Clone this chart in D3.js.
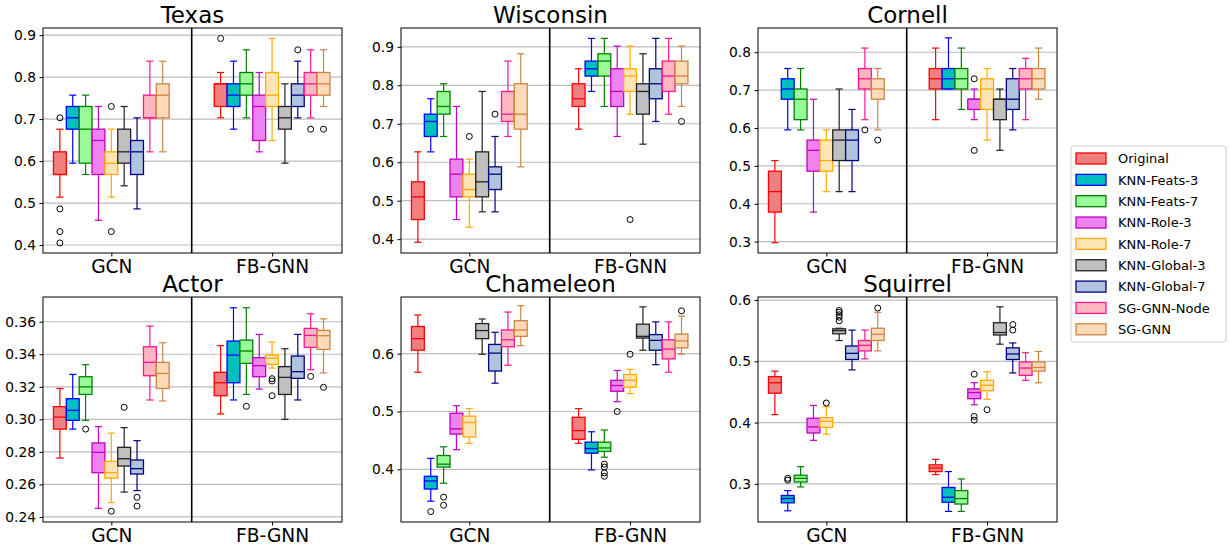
<!DOCTYPE html>
<html>
<head>
<meta charset="utf-8">
<script src="https://cdnjs.cloudflare.com/ajax/libs/d3/7.8.5/d3.min.js"></script>
<style>
  body { margin: 0; background: #fff; }
  text { font-family: "DejaVu Sans", sans-serif; fill: #000; }
</style>
</head>
<body>
<div id="chart-area"></div>
<script>
// categories
const datasets = ["Texas", "Wisconsin", "Cornell", "Actor", "Chameleon", "Squirrel"];
const models = ["GCN", "FB-GNN"];
const variants = ["Original", "KNN-Feats-3", "KNN-Feats-7", "KNN-Role-3", "KNN-Role-7",
  "KNN-Global-3", "KNN-Global-7", "SG-GNN-Node", "SG-GNN"];

// tick labels per panel
const texasTicks = [0.4, 0.5, 0.6, 0.7, 0.8, 0.9];
const wiscTicks = [0.4, 0.5, 0.6, 0.7, 0.8, 0.9];
const cornellTicks = [0.3, 0.4, 0.5, 0.6, 0.7, 0.8];
const actorTicks = [0.24, 0.26, 0.28, 0.30, 0.32, 0.34, 0.36];
const chamTicks = [0.4, 0.5, 0.6];
const squTicks = [0.3, 0.4, 0.5, 0.6];

// box stats: [whisker low, q1, median, q3, whisker high, outliers]
const texasGCN = [
  [0.514, 0.568, 0.568, 0.622, 0.676, [0.703, 0.486, 0.432, 0.405]],
  [0.595, 0.676, 0.703, 0.730, 0.757],
  [0.568, 0.595, 0.676, 0.730, 0.757],
  [0.459, 0.568, 0.649, 0.676, 0.730],
  [0.514, 0.568, 0.595, 0.622, 0.676, [0.730, 0.432]],
  [0.541, 0.595, 0.622, 0.676, 0.730],
  [0.486, 0.568, 0.622, 0.649, 0.703],
  [0.622, 0.703, 0.703, 0.757, 0.838],
  [0.622, 0.703, 0.757, 0.784, 0.838]
];
const texasFB = [
  [0.703, 0.730, 0.784, 0.784, 0.811, [0.892]],
  [0.676, 0.730, 0.757, 0.784, 0.838],
  [0.703, 0.757, 0.784, 0.811, 0.865],
  [0.622, 0.649, 0.730, 0.757, 0.811],
  [0.649, 0.730, 0.757, 0.811, 0.892],
  [0.595, 0.676, 0.703, 0.730, 0.784],
  [0.703, 0.730, 0.757, 0.784, 0.838, [0.865]],
  [0.703, 0.757, 0.784, 0.811, 0.865, [0.676]],
  [0.730, 0.757, 0.784, 0.811, 0.865, [0.676]]
];
const wiscGCN = [
  [0.392, 0.451, 0.510, 0.549, 0.627],
  [0.627, 0.667, 0.706, 0.725, 0.765],
  [0.667, 0.725, 0.745, 0.784, 0.804],
  [0.451, 0.510, 0.569, 0.608, 0.745],
  [0.431, 0.510, 0.529, 0.569, 0.608, [0.667]],
  [0.471, 0.510, 0.549, 0.627, 0.784],
  [0.471, 0.529, 0.569, 0.588, 0.667, [0.725]],
  [0.667, 0.706, 0.725, 0.784, 0.863],
  [0.588, 0.686, 0.725, 0.804, 0.882]
];
const wiscFB = [
  [0.686, 0.745, 0.765, 0.804, 0.843],
  [0.784, 0.824, 0.843, 0.863, 0.922],
  [0.745, 0.824, 0.863, 0.882, 0.922],
  [0.667, 0.745, 0.784, 0.843, 0.902],
  [0.725, 0.784, 0.824, 0.843, 0.902, [0.451]],
  [0.647, 0.725, 0.784, 0.804, 0.882],
  [0.706, 0.765, 0.804, 0.843, 0.922],
  [0.725, 0.784, 0.824, 0.863, 0.922],
  [0.745, 0.804, 0.824, 0.863, 0.902, [0.706]]
];
const cornellGCN = [
  [0.297, 0.378, 0.432, 0.486, 0.514],
  [0.595, 0.676, 0.703, 0.730, 0.757],
  [0.595, 0.622, 0.676, 0.703, 0.757],
  [0.378, 0.486, 0.541, 0.568, 0.676],
  [0.432, 0.486, 0.514, 0.568, 0.595],
  [0.432, 0.514, 0.568, 0.595, 0.703],
  [0.432, 0.514, 0.568, 0.595, 0.649],
  [0.622, 0.703, 0.730, 0.757, 0.811, [0.595]],
  [0.595, 0.676, 0.703, 0.730, 0.757, [0.568]]
];
const cornellFB = [
  [0.622, 0.703, 0.730, 0.757, 0.811],
  [0.703, 0.703, 0.730, 0.757, 0.838],
  [0.649, 0.703, 0.730, 0.757, 0.811],
  [0.622, 0.649, 0.676, 0.676, 0.703, [0.730, 0.541]],
  [0.568, 0.649, 0.703, 0.730, 0.757],
  [0.541, 0.622, 0.676, 0.676, 0.703],
  [0.595, 0.649, 0.676, 0.730, 0.757],
  [0.622, 0.703, 0.730, 0.757, 0.784],
  [0.676, 0.703, 0.730, 0.757, 0.811]
];
const actorGCN = [
  [0.2762, 0.2940, 0.3014, 0.3078, 0.3190],
  [0.2940, 0.2994, 0.3055, 0.3127, 0.3276],
  [0.2994, 0.3153, 0.3200, 0.3262, 0.3336, [0.2940]],
  [0.2453, 0.2672, 0.2797, 0.2855, 0.2955],
  [0.2488, 0.2638, 0.2672, 0.2742, 0.2915, [0.2435]],
  [0.2553, 0.2713, 0.2758, 0.2828, 0.2949, [0.3074]],
  [0.2562, 0.2664, 0.2697, 0.2750, 0.2869, [0.2521, 0.2467]],
  [0.3119, 0.3268, 0.3350, 0.3446, 0.3573],
  [0.3113, 0.3190, 0.3282, 0.3350, 0.3471]
];
const actorFB = [
  [0.3033, 0.3145, 0.3225, 0.3289, 0.3453],
  [0.3119, 0.3225, 0.3395, 0.3481, 0.3686],
  [0.3153, 0.3344, 0.3420, 0.3487, 0.3686, [0.3080]],
  [0.3186, 0.3262, 0.3330, 0.3379, 0.3522],
  [0.3315, 0.3338, 0.3375, 0.3395, 0.3475, [0.3250, 0.3236, 0.3145]],
  [0.3000, 0.3153, 0.3258, 0.3324, 0.3434],
  [0.3119, 0.3252, 0.3293, 0.3389, 0.3522],
  [0.3305, 0.3442, 0.3516, 0.3559, 0.3649, [0.3264]],
  [0.3285, 0.3430, 0.3514, 0.3547, 0.3618, [0.3197]]
];
const chamGCN = [
  [0.568, 0.606, 0.626, 0.647, 0.667],
  [0.345, 0.366, 0.380, 0.388, 0.419, [0.327]],
  [0.376, 0.404, 0.409, 0.424, 0.439, [0.352, 0.338]],
  [0.434, 0.461, 0.470, 0.497, 0.510],
  [0.445, 0.456, 0.481, 0.492, 0.505],
  [0.599, 0.626, 0.640, 0.652, 0.660],
  [0.549, 0.570, 0.601, 0.616, 0.637],
  [0.580, 0.612, 0.624, 0.641, 0.672],
  [0.614, 0.630, 0.641, 0.657, 0.683]
];
const chamFB = [
  [0.445, 0.452, 0.467, 0.490, 0.505],
  [0.399, 0.428, 0.436, 0.447, 0.465],
  [0.421, 0.431, 0.437, 0.447, 0.468, [0.409, 0.404, 0.394, 0.388]],
  [0.517, 0.535, 0.545, 0.554, 0.571, [0.500]],
  [0.531, 0.542, 0.554, 0.564, 0.573, [0.599]],
  [0.606, 0.627, 0.630, 0.651, 0.681],
  [0.581, 0.606, 0.623, 0.633, 0.655],
  [0.568, 0.591, 0.608, 0.624, 0.655],
  [0.599, 0.610, 0.622, 0.634, 0.665, [0.674]]
];
const squGCN = [
  [0.413, 0.448, 0.465, 0.475, 0.484],
  [0.256, 0.269, 0.276, 0.281, 0.289, [0.309, 0.306]],
  [0.295, 0.303, 0.309, 0.314, 0.328],
  [0.371, 0.383, 0.393, 0.407, 0.428],
  [0.381, 0.392, 0.402, 0.408, 0.426, [0.432]],
  [0.534, 0.545, 0.550, 0.553, 0.554, [0.583, 0.580, 0.576, 0.572, 0.566]],
  [0.486, 0.503, 0.513, 0.525, 0.551],
  [0.504, 0.517, 0.526, 0.534, 0.551],
  [0.517, 0.534, 0.544, 0.554, 0.580, [0.587]]
];
const squFB = [
  [0.315, 0.320, 0.326, 0.331, 0.340],
  [0.255, 0.270, 0.278, 0.294, 0.320],
  [0.255, 0.267, 0.276, 0.289, 0.308],
  [0.429, 0.439, 0.449, 0.455, 0.465, [0.479, 0.410, 0.404]],
  [0.438, 0.452, 0.461, 0.469, 0.483, [0.421]],
  [0.528, 0.543, 0.547, 0.563, 0.589],
  [0.481, 0.503, 0.512, 0.522, 0.530, [0.560, 0.551]],
  [0.469, 0.477, 0.489, 0.499, 0.514],
  [0.465, 0.484, 0.490, 0.499, 0.516]
];

const fills = ["#f08080", "#00bfbf", "#98fb98", "#ee82ee", "#ffe4b5", "#c0c0c0", "#b0c4de", "#ffb6c1", "#ffdab9"];
const edges = ["#ff0000", "#0000ff", "#008000", "#c000c0", "#ffaa00", "#222222", "#000080", "#ff1493", "#cd853f"];

const panels = [
  {stats: [texasGCN, texasFB], ticks: texasTicks, domain: [0.381, 0.917], fmt: ".1f"},
  {stats: [wiscGCN, wiscFB], ticks: wiscTicks, domain: [0.364, 0.949], fmt: ".1f"},
  {stats: [cornellGCN, cornellFB], ticks: cornellTicks, domain: [0.270, 0.864], fmt: ".1f"},
  {stats: [actorGCN, actorFB], ticks: actorTicks, domain: [0.2369, 0.3752], fmt: ".2f"},
  {stats: [chamGCN, chamFB], ticks: chamTicks, domain: [0.309, 0.698], fmt: ".1f"},
  {stats: [squGCN, squFB], ticks: squTicks, domain: [0.2377, 0.605], fmt: ".1f"}
];

const colX = [43, 401, 758];
const rowY = [28, 297];
const pw = 299, ph = 225;
const bw = 0.08; // box step in group units

let svg = d3.select("#chart-area")
  .append("svg")
  .attr("width", 1230)
  .attr("height", 546);

panels.forEach((p, i) => {
  let g = svg.append("g")
    .attr("transform", "translate(" + colX[i % 3] + "," + rowY[Math.floor(i / 3)] + ")");

  let x = d3.scaleLinear().domain([-0.425, 1.435]).range([0, pw]);
  let y = d3.scaleLinear().domain(p.domain).range([ph, 0]);
  let w = x(bw) - x(0);

  // grid
  g.selectAll(".grid")
    .data(p.ticks)
    .enter()
    .append("line")
    .attr("x1", 0).attr("x2", pw)
    .attr("y1", d => y(d)).attr("y2", d => y(d))
    .attr("stroke", "#bdbdbd")
    .attr("stroke-width", 1.2);

  // divider between the two models
  g.append("line")
    .attr("x1", x(0.5)).attr("x2", x(0.5))
    .attr("y1", 0).attr("y2", ph)
    .attr("stroke", "#000")
    .attr("stroke-width", 1.6);

  // boxes, one variant at a time
  variants.forEach((v, vi) => {
    p.stats.forEach((grp, gi) => {
      let s = grp[vi];
      let cx = x(gi) + (vi - 4) * w;
      let bg = g.append("g");
      let col = edges[vi];

      bg.append("line")
        .attr("x1", cx).attr("x2", cx)
        .attr("y1", y(s[0])).attr("y2", y(s[1]))
        .attr("stroke", col).attr("stroke-width", 1.2);
      bg.append("line")
        .attr("x1", cx).attr("x2", cx)
        .attr("y1", y(s[3])).attr("y2", y(s[4]))
        .attr("stroke", col).attr("stroke-width", 1.2);
      [s[0], s[4]].forEach(c => {
        bg.append("line")
          .attr("x1", cx - w * 0.28).attr("x2", cx + w * 0.28)
          .attr("y1", y(c)).attr("y2", y(c))
          .attr("stroke", col).attr("stroke-width", 1.2);
      });
      bg.append("rect")
        .attr("x", cx - w / 2)
        .attr("y", y(s[3]))
        .attr("width", w)
        .attr("height", Math.max(0.5, y(s[1]) - y(s[3])))
        .attr("fill", fills[vi])
        .attr("stroke", col)
        .attr("stroke-width", 1.3);
      bg.append("line")
        .attr("x1", cx - w / 2).attr("x2", cx + w / 2)
        .attr("y1", y(s[2])).attr("y2", y(s[2]))
        .attr("stroke", col).attr("stroke-width", 1.3);
      (s[5] || []).forEach(o => {
        bg.append("circle")
          .attr("cx", cx).attr("cy", y(o))
          .attr("r", 3)
          .attr("fill", "none")
          .attr("stroke", "#000")
          .attr("stroke-width", 1);
      });
    });
  });

  // frame
  g.append("rect")
    .attr("width", pw).attr("height", ph)
    .attr("fill", "none")
    .attr("stroke", "#000")
    .attr("stroke-width", 1);

  let yAxisCall = d3.axisLeft(y)
    .tickValues(p.ticks)
    .tickFormat(d3.format(p.fmt))
    .tickSize(3.5)
    .tickPadding(3.5);
  let ya = g.append("g").attr("class", "y axis").call(yAxisCall);
  ya.select(".domain").remove();
  ya.selectAll("text").attr("font-size", "13.8px").attr("font-family", "DejaVu Sans");

  let xAxisCall = d3.axisBottom(x)
    .tickValues([0, 1])
    .tickFormat(d => models[d])
    .tickSize(3.5)
    .tickPadding(3.5);
  let xa = g.append("g")
    .attr("class", "x axis")
    .attr("transform", "translate(0," + ph + ")")
    .call(xAxisCall);
  xa.select(".domain").remove();
  xa.selectAll("text").attr("font-size", "18.6px").attr("font-family", "DejaVu Sans");

  // title
  g.append("text")
    .attr("x", pw / 2)
    .attr("y", -5)
    .attr("text-anchor", "middle")
    .attr("font-size", "23px")
    .text(datasets[i]);
});

// legend
let lg = svg.append("g").attr("transform", "translate(1071,146)");
lg.append("rect")
  .attr("width", 155).attr("height", 196)
  .attr("rx", 3)
  .attr("fill", "#fff")
  .attr("stroke", "#d0d0d0");
variants.forEach((v, vi) => {
  let cy = 12.5 + vi * 21.35;
  lg.append("rect")
    .attr("x", 5).attr("y", cy - 5.5)
    .attr("width", 30).attr("height", 11)
    .attr("fill", fills[vi])
    .attr("stroke", edges[vi])
    .attr("stroke-width", 1.3);
  lg.append("text")
    .attr("x", 47).attr("y", cy)
    .attr("dy", "0.36em")
    .attr("font-size", "13px")
    .text(v);
});
</script>
</body>
</html>
